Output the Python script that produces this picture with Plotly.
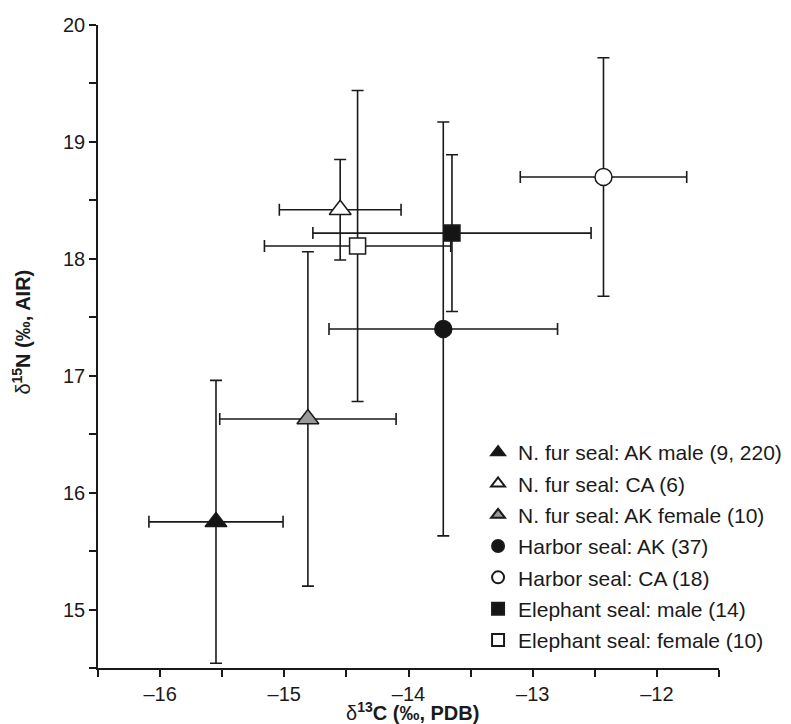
import plotly.graph_objects as go

# Data
names = [
    "N. fur seal: AK male (9, 220)",
    "N. fur seal: CA (6)",
    "N. fur seal: AK female (10)",
    "Harbor seal: AK (37)",
    "Harbor seal: CA (18)",
    "Elephant seal: male (14)",
    "Elephant seal: female (10)",
]
d13C = [-15.55, -14.55, -14.81, -13.72, -12.43, -13.65, -14.41]
d15N = [15.75, 18.42, 16.63, 17.40, 18.70, 18.22, 18.11]
d13C_sd = [0.54, 0.49, 0.71, 0.92, 0.67, 1.12, 0.75]
d15N_sd = [1.21, 0.43, 1.43, 1.77, 1.02, 0.67, 1.33]

x_ticks = [-16, -15, -14, -13, -12]
y_ticks = [15, 16, 17, 18, 19, 20]

x_title = "δ<sup><b>13</b></sup><b>C (‰, PDB)</b>"
y_title = "δ<sup><b>15</b></sup><b>N (‰, AIR)</b>"

# Styles
symbols = ["triangle-up", "triangle-up", "triangle-up", "circle", "circle", "square", "square"]
fills = ["#151515", "#ffffff", "#9a9a9a", "#151515", "#ffffff", "#151515", "#ffffff"]
sizes = [19, 19, 19, 17, 17, 16, 16]

FONT = "Liberation Sans, Arial, Helvetica, sans-serif"
INK = "#1a1a1a"

fig = go.Figure()
for i, name in enumerate(names):
    fig.add_trace(go.Scatter(
        x=[d13C[i]], y=[d15N[i]],
        mode="markers",
        name=name,
        legendgroup=f"g{i}",
        marker=dict(symbol=symbols[i], size=sizes[i], color=fills[i],
                    line=dict(color=INK, width=1.5)),
        error_x=dict(type="data", array=[d13C_sd[i]], arrayminus=[d13C_sd[i]],
                     color=INK, thickness=1.6, width=6),
        error_y=dict(type="data", array=[d15N_sd[i]], arrayminus=[d15N_sd[i]],
                     color=INK, thickness=1.6, width=6),
    ))

axis_common = dict(
    showgrid=False, zeroline=False, showline=True, linecolor=INK, linewidth=1.5,
    ticks="outside", ticklen=7, tickwidth=1.5, tickcolor=INK,
    tickfont=dict(family=FONT, size=20, color=INK),
    automargin=False,
)

fig.update_layout(
    width=791, height=724,
    margin=dict(l=90, r=57, t=17, b=64),
    paper_bgcolor="white", plot_bgcolor="white",
    font=dict(family=FONT, color=INK),
    showlegend=True,
    legend=dict(
        x=0.612, y=0.367, xanchor="left", yanchor="top",
        font=dict(family=FONT, size=21, color=INK),
        itemsizing="constant", traceorder="grouped", tracegroupgap=1,
        bgcolor="rgba(0,0,0,0)", borderwidth=0,
    ),
    xaxis=dict(
        range=[-16.5, -11.5], tickvals=x_ticks,
        ticktext=[f"\u2013{abs(v)}" for v in x_ticks],
        minor=dict(dtick=0.5, tick0=0, ticks="outside", ticklen=7, tickwidth=1.5, tickcolor=INK),
        **axis_common,
    ),
    yaxis=dict(
        range=[14.5, 20], tickvals=y_ticks,
        minor=dict(dtick=0.5, tick0=0, ticks="outside", ticklen=7, tickwidth=1.5, tickcolor=INK),
        **axis_common,
    ),
    annotations=[
        dict(text=x_title, xref="paper", yref="paper", x=0.506, y=-0.067,
             xanchor="center", yanchor="middle", showarrow=False,
             font=dict(family=FONT, size=20, color=INK)),
        dict(text=y_title, xref="paper", yref="paper", x=-0.1236, y=0.522,
             xanchor="center", yanchor="middle", showarrow=False, textangle=-90,
             font=dict(family=FONT, size=20, color=INK)),
    ],
)

fig.write_html("out.html")
